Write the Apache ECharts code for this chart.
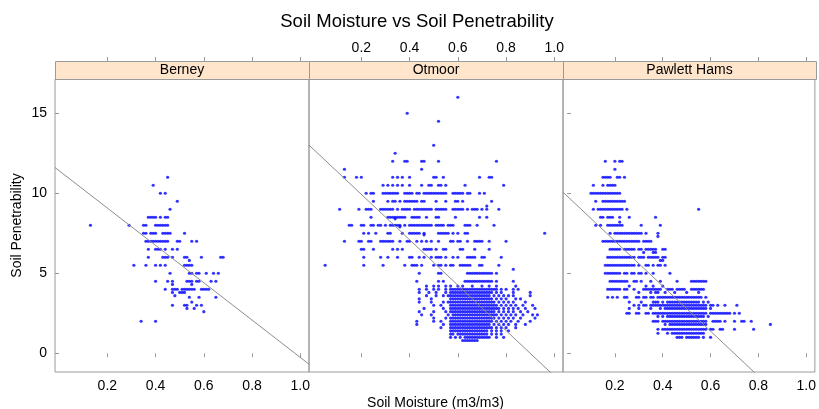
<!DOCTYPE html>
<html><head><meta charset="utf-8">
<script src="https://cdn.jsdelivr.net/npm/echarts@6/dist/echarts.min.js"></script>
<style>html,body{margin:0;padding:0;background:#fff}#c{width:819px;height:409px}</style>
</head><body><div id="c"></div><script>
const chartTitle = 'Soil Moisture vs Soil Penetrability';
const xTitle = 'Soil Moisture (m3/m3)';
const yTitle = 'Soil Penetrability';
const panels = ['Berney', 'Otmoor', 'Pawlett Hams'];
const xTicks = [0.2, 0.4, 0.6, 0.8, 1.0];
const yTicks = [0, 5, 10, 15];
const fitIntercepts = [11.41, 12.77, 9.83];
const fitSlopes = [-11.67, -14.19, -14.08];

// rows: [penetrability, [moisture values]]
const berneyRows = [
[11,[.45]],[10.5,[.39]],[10,[.42,.44]],[9.5,[.49]],[9,[.46]],
[8.5,[.37,.38,.39,.40,.42,.44,.45]],
[8,[.13,.29,.35,.36,.40,.41,.42,.43,.44,.45]],
[7.5,[.35,.36,.38,.39,.40,.43,.44,.45,.46,.52]],
[7,[.36,.37,.38,.39,.40,.41,.42,.43,.44,.45,.49,.50,.55,.57]],
[6.5,[.37,.40,.41,.42,.44,.47,.49]],
[6,[.37,.43,.44,.45,.47,.52,.53,.59,.67,.68]],
[5.8,[.54]],
[5.5,[.31,.36,.40,.42,.44,.52,.53,.54,.55]],
[5,[.46,.54,.55,.57,.58,.61,.64,.66]],
[4.5,[.40,.45,.47,.53,.54,.55,.57,.58,.63,.65]],
[4.3,[.47,.55]],
[4,[.44,.47,.48,.49,.51,.52,.53,.54,.55,.56,.59,.60,.61,.62]],
[3.8,[.47,.50,.51,.52]],[3.6,[.48]],[3.5,[.54,.58,.65]],[3.2,[.55]],
[3,[.47,.52,.53,.57,.59]],[2.8,[.53,.56]],[2.6,[.60]],[2,[.34,.40]]
];

const otmoorRows = [
[16,[.60]],[15,[.39]],[14.5,[.52]],[13,[.50]],[12.5,[.34]],
[12,[.33,.38,.39,.45,.46,.52,.76]],
[11.5,[.13,.45]],
[11,[.13,.18,.20,.33,.35,.37,.40,.50,.51,.54,.69,.73,.74]],
[10.5,[.29,.31,.33,.35,.37,.40,.45,.48,.49,.52,.53,.55,.63,.79]],
[10,[.22,.24,.25,.29,.30,.31,.32,.33,.34,.35,.38,.39,.40,.41,.43,.44,.46,.47,.48,.49,.50,.51,.52,.53,.54,.55,.58,.59,.60,.61,.62,.64,.65,.69,.71]],
[9.5,[.25,.31,.33,.34,.36,.38,.39,.40,.41,.42,.43,.45,.46,.51,.55,.59,.60,.62,.74]],
[9.2,[.72]],
[9,[.11,.19,.22,.23,.24,.28,.29,.30,.31,.32,.33,.35,.37,.38,.39,.40,.42,.43,.44,.45,.46,.47,.48,.49,.51,.52,.53,.54,.55,.58,.59,.60,.61,.62,.64,.66,.67,.68,.70,.72,.77]],
[8.5,[.24,.31,.32,.33,.34,.35,.36,.37,.38,.41,.42,.43,.44,.47,.51,.52,.59,.69,.72]],
[8.4,[.34]],
[8,[.15,.16,.20,.21,.24,.25,.27,.28,.30,.32,.33,.34,.35,.36,.38,.40,.41,.42,.43,.44,.45,.46,.47,.48,.49,.51,.52,.53,.54,.56,.57,.58,.63,.64,.65,.68,.75]],
[7.9,[.36]],
[7.5,[.21,.23,.26,.31,.32,.37,.40,.41,.42,.43,.44,.46,.52,.53,.54,.55,.56,.58,.60,.63,.64,.96]],
[7.4,[.46]],
[7,[.13,.19,.20,.23,.24,.28,.29,.30,.31,.32,.33,.36,.39,.40,.43,.45,.47,.49,.52,.57,.58,.60,.61,.64,.67,.68,.69,.70,.73,.80]],
[6.5,[.20,.21,.25,.33,.35,.37,.46,.47,.48,.49,.51,.54,.55,.61,.62,.67,.73]],
[6,[.21,.28,.31,.35,.40,.41,.44,.46,.49,.51,.52,.53,.55,.58,.60,.64,.65,.66,.67,.70,.71,.78]],
[5.5,[.05,.21,.29,.38,.41,.42,.43,.45,.50,.52,.53,.55,.57,.58,.61,.62,.63,.64,.65,.69,.70,.77]],
[5.25,[.83]],
[5,[.44,.52,.53,.64,.65,.66,.67,.68,.69,.70,.71,.72,.73,.74,.76]],
[4.5,[.43,.52,.54,.63,.64,.65,.66,.67,.68,.69,.70,.71,.72,.73,.74,.76,.83]],
[4.2,[.47,.50,.52,.55,.57,.60,.62,.66,.70,.73,.76,.84]],
[4,[.44,.47,.50,.52,.55,.57,.58,.59,.60,.61,.62,.63,.64,.65,.66,.67,.68,.69,.70,.71,.72,.73,.74,.75,.76,.78,.80,.83,.85]],
[3.8,[.44,.48,.51,.55,.57,.58,.59,.60,.61,.62,.63,.64,.65,.66,.67,.68,.69,.70,.71,.72,.73,.74,.76,.78,.83,.90]],
[3.6,[.47,.51,.54,.56,.57,.58,.59,.60,.61,.62,.63,.64,.65,.66,.67,.68,.69,.70,.71,.72,.73,.75,.77,.79,.81,.83,.90]],
[3.4,[.44,.49,.57,.58,.59,.60,.61,.62,.63,.64,.65,.66,.67,.68,.69,.70,.71,.72,.73,.74,.76,.78,.80,.84,.86]],
[3.2,[.44,.49,.54,.56,.57,.58,.59,.60,.61,.62,.63,.64,.65,.66,.67,.68,.69,.70,.71,.72,.73,.74,.75,.77,.79,.81,.83,.88]],
[3,[.50,.53,.57,.58,.59,.60,.61,.62,.63,.64,.65,.66,.67,.68,.69,.70,.71,.72,.73,.74,.75,.76,.78,.80,.82,.84,.87,.91]],
[2.8,[.46,.54,.57,.58,.59,.60,.61,.62,.63,.64,.65,.66,.67,.68,.69,.70,.71,.72,.73,.74,.75,.76,.77,.79,.81,.83,.85,.88,.92]],
[2.6,[.44,.50,.55,.57,.58,.59,.60,.61,.62,.63,.64,.65,.66,.67,.68,.69,.70,.71,.72,.73,.74,.75,.77,.79,.81,.83,.86,.89]],
[2.4,[.45,.49,.56,.58,.59,.60,.61,.62,.63,.64,.65,.66,.67,.68,.69,.70,.71,.72,.73,.74,.75,.76,.78,.80,.82,.84,.87,.91,.93]],
[2.2,[.50,.55,.57,.58,.59,.60,.61,.62,.63,.64,.65,.66,.67,.68,.69,.70,.71,.72,.73,.74,.75,.77,.79,.81,.83,.86,.92]],
[2,[.43,.50,.53,.57,.58,.59,.60,.61,.62,.63,.64,.65,.66,.67,.68,.69,.70,.71,.72,.73,.74,.76,.78,.80,.82,.85,.90]],
[1.8,[.43,.54,.57,.58,.59,.60,.61,.62,.63,.64,.65,.66,.67,.68,.69,.70,.71,.72,.73,.75,.77,.79,.81,.84,.88]],
[1.6,[.53,.57,.58,.59,.60,.61,.62,.63,.64,.65,.66,.67,.68,.69,.70,.71,.72,.73,.74,.76,.78,.80,.84]],
[1.4,[.57,.58,.59,.60,.61,.62,.63,.64,.65,.66,.67,.68,.69,.70,.71,.72,.74,.76,.78,.81]],
[1.2,[.57,.58,.60,.61,.62,.63,.64,.65,.66,.67,.68,.69,.70,.71,.72,.74,.76,.78]],
[1,[.57,.59,.61,.63,.64,.65,.66,.67,.68,.69,.70,.71,.72,.73,.76,.79]],
[0.8,[.62,.63,.64,.65,.66,.67,.68]]
];

const pawlettRows = [
[12,[.16,.20,.22,.23]],[11.5,[.20]],
[11,[.15,.16,.17,.18,.21,.22,.24]],
[10.5,[.11,.15,.17,.18,.19,.20]],
[10,[.10,.11,.12,.13,.14,.15,.16,.17,.18,.19,.20,.21,.22]],
[9.5,[.12,.15,.16,.17,.18,.19,.20,.21,.22,.23,.24]],
[9,[.11,.13,.14,.15,.16,.17,.18,.19,.20,.21,.22,.23,.25,.55]],
[8.5,[.14,.15,.17,.18,.19,.22,.26,.37]],
[8.2,[.22]],
[8,[.12,.14,.17,.18,.19,.20,.21,.22,.23,.31,.39]],
[7.5,[.18,.20,.21,.22,.23,.24,.25,.26,.27,.28,.29,.30,.31,.33,.38]],
[7.3,[.38]],
[7,[.15,.16,.17,.18,.19,.20,.21,.22,.23,.24,.25,.26,.27,.28,.29,.30,.32,.33,.34,.35]],
[6.5,[.18,.19,.20,.21,.22,.24,.25,.26,.27,.28,.30,.31,.33,.34,.35,.36,.37,.40,.41]],
[6.3,[.32,.36,.37]],
[6,[.17,.18,.19,.20,.21,.22,.23,.24,.25,.26,.27,.28,.30,.31,.32,.34,.35,.36,.37,.38,.40,.41]],
[5.8,[.39,.40]],
[5.5,[.16,.17,.18,.19,.20,.21,.22,.23,.24,.25,.26,.27,.28,.30,.33,.34,.36,.38,.39,.41]],
[5,[.16,.17,.18,.19,.20,.21,.22,.24,.25,.27,.28,.30,.31,.33,.36,.43]],
[4.5,[.18,.19,.20,.21,.22,.23,.24,.25,.28,.29,.31,.35,.39,.46,.52,.53,.54,.55,.56,.57,.58]],
[4.2,[.26,.33,.36,.40]],
[4,[.17,.18,.19,.20,.21,.22,.24,.25,.28,.32,.33,.34,.35,.36,.37,.38,.39,.42,.43,.44,.46,.47,.48,.49,.52,.53,.54,.55,.56,.57]],
[3.8,[.30,.35,.37,.38,.41,.45,.50,.55]],
[3.5,[.17,.19,.21,.24,.25,.29,.30,.32,.33,.35,.36,.38,.39,.40,.41,.42,.43,.44,.45,.46,.47,.48,.49,.50,.51,.52,.53,.54,.55,.56,.58]],
[3.2,[.26,.31,.36,.37,.38,.40,.42,.43,.44,.45,.46,.47,.48,.49,.50,.51,.52,.53,.54,.55,.57,.59]],
[3,[.28,.30,.32,.33,.35,.36,.37,.38,.39,.40,.41,.42,.43,.44,.45,.46,.47,.48,.49,.50,.51,.52,.53,.54,.55,.56,.57,.58,.60,.61,.63,.66,.71]],
[2.8,[.26,.30,.35,.39,.41,.42,.43,.44,.45,.46,.47,.48,.49,.50,.51,.52,.53,.54,.55,.56,.57,.58,.60]],
[2.5,[.25,.26,.29,.30,.33,.34,.36,.37,.38,.39,.40,.41,.42,.43,.44,.45,.46,.47,.48,.49,.50,.51,.52,.53,.54,.55,.56,.57,.58,.60,.61,.62,.63,.64,.65,.66,.67,.68,.70,.72]],
[2.3,[.38,.40,.42,.43,.44,.45,.46,.47,.48,.49,.50,.51,.52,.53,.54,.55,.56,.57,.59]],
[2,[.36,.37,.38,.40,.41,.42,.43,.44,.45,.46,.47,.48,.49,.50,.51,.52,.53,.54,.55,.56,.57,.58,.61,.62,.63,.64,.66,.70,.73,.74,.77]],
[1.8,[.41,.43,.44,.45,.46,.47,.48,.49,.50,.51,.52,.53,.54,.55,.56,.57,.58,.85]],
[1.5,[.38,.40,.41,.42,.43,.44,.45,.46,.47,.48,.49,.50,.51,.52,.53,.54,.55,.56,.57,.58,.60,.61,.64,.65,.70,.78]],
[1.25,[.38,.42,.44,.45,.46,.47,.48,.49,.50,.51,.52,.53,.54,.55,.56,.57]],
[1,[.46,.47,.48,.50,.51,.52,.53,.54,.55,.57,.60]]
];

const panelRows = [berneyRows, otmoorRows, pawlettRows];

const XMIN = -0.017, XMAX = 1.036, YMIN = -1.17, YMAX = 17.14;
const FONT = '"Liberation Sans", Arial, Helvetica, sans-serif';
const BORDER = '#9a9a9a';
const gridLefts = [55, 309, 563];
const gridWidths = [254, 254, 253];
const GTOP = 79, GH = 293, STRIP = 18;

const grids = [], xAxes = [], yAxes = [], series = [], graphics = [];
panels.forEach((name, i) => {
  grids.push({left: gridLefts[i], top: GTOP, width: gridWidths[i], height: GH,
    show: true, borderColor: BORDER, borderWidth: 1, backgroundColor: 'transparent'});
  const tickStyle = {show: true, inside: false, length: 4, customValues: xTicks, lineStyle: {color: BORDER}};
  const lab = (show, margin) => ({show, customValues: xTicks, formatter: v => v.toFixed(1),
    margin, fontSize: 14, color: '#000', fontFamily: FONT});
  xAxes.push({type: 'value', gridIndex: i, position: 'bottom', min: XMIN, max: XMAX,
    axisLine: {show: false}, splitLine: {show: false}, axisTick: tickStyle, axisLabel: lab(i !== 1, 7)});
  xAxes.push({type: 'value', gridIndex: i, position: 'top', offset: STRIP, min: XMIN, max: XMAX,
    axisLine: {show: false}, splitLine: {show: false}, axisTick: tickStyle, axisLabel: lab(i === 1, 6)});
  yAxes.push({type: 'value', gridIndex: i, position: i === 2 ? 'right' : 'left', min: YMIN, max: YMAX,
    axisLine: {show: false}, splitLine: {show: false},
    axisTick: {show: i !== 1, inside: false, length: 4, customValues: yTicks, lineStyle: {color: BORDER}},
    axisLabel: {show: i === 0, customValues: yTicks, margin: 8, fontSize: 14, color: '#000', fontFamily: FONT}});
  const pts = [];
  panelRows[i].forEach(([y, xs]) => xs.forEach(x => pts.push([x, y])));
  series.push({type: 'scatter', xAxisIndex: 2 * i, yAxisIndex: i, data: pts,
    symbol: 'circle', symbolSize: 3.2, itemStyle: {color: '#0000ff'}, silent: true});
  const a = fitIntercepts[i], b = fitSlopes[i];
  series.push({type: 'line', xAxisIndex: 2 * i, yAxisIndex: i, clip: true, showSymbol: false, silent: true,
    data: [[XMIN, a + b * XMIN], [XMAX, a + b * XMAX]],
    lineStyle: {color: '#8c8c8c', width: 1}});
  graphics.push({type: 'rect', z: 10, shape: {x: gridLefts[i] + 0.5, y: GTOP - STRIP + 0.5, width: gridWidths[i], height: STRIP},
    style: {fill: '#ffe5cc', stroke: BORDER, lineWidth: 1}});
  graphics.push({type: 'text', z: 11, x: gridLefts[i] + gridWidths[i] / 2, y: GTOP - STRIP / 2,
    style: {text: name, fill: '#000', font: '14px ' + FONT, textAlign: 'center', textVerticalAlign: 'middle'}});
});
graphics.push({type: 'text', x: 417, y: 21.5,
  style: {text: chartTitle, fill: '#000', font: '18.5px ' + FONT, textAlign: 'center', textVerticalAlign: 'middle'}});
graphics.push({type: 'text', x: 435.5, y: 403,
  style: {text: xTitle, fill: '#000', font: '14px ' + FONT, textAlign: 'center', textVerticalAlign: 'middle'}});
graphics.push({type: 'text', x: 17, y: 225.5, rotation: Math.PI / 2,
  style: {text: yTitle, fill: '#000', font: '14px ' + FONT, textAlign: 'center', textVerticalAlign: 'middle'}});

const chart = echarts.init(document.getElementById('c'), null, {renderer: 'canvas'});
chart.setOption({animation: false, backgroundColor: '#fff', grid: grids, xAxis: xAxes, yAxis: yAxes,
  series, graphic: graphics});
</script></body></html>
